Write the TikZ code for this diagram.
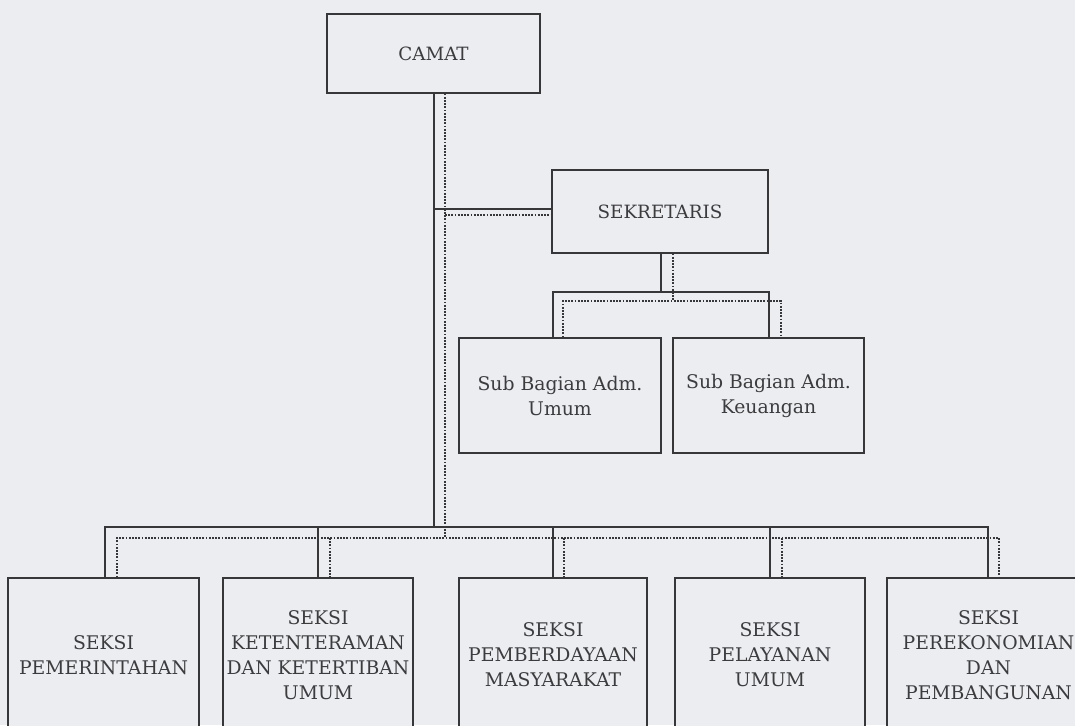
\documentclass[tikz,border=0pt]{standalone}
\usepackage{fontspec}
\setmainfont{DejaVu Serif}
\definecolor{bgc}{RGB}{236,237,241}
\definecolor{linec}{RGB}{55,55,58}
\definecolor{textc}{RGB}{60,60,62}
\begin{document}
\begin{tikzpicture}[x=1pt,y=-1pt,
  box/.style={draw=linec, line width=1.3pt, fill=bgc, inner sep=0pt, align=center, text=textc},
  conn/.style={draw=linec, line width=1.2pt},
  dotc/.style={draw=linec, line width=1.2pt, dash pattern=on 1.8pt off 1.4pt},
  big/.style={font=\fontsize{18.3}{25}\selectfont},
  med/.style={font=\fontsize{18.8}{25}\selectfont}]
\useasboundingbox (0,0) rectangle (1075,725);
\fill[bgc] (0,0) rectangle (1075,725);
\clip (0,0) rectangle (1075,725);
% nodes
\node[box,big,minimum width=213pt,minimum height=79pt] (camat) at (433.5,53.5) {CAMAT};
\node[box,big,minimum width=216pt,minimum height=83pt] (sek) at (660,211.5) {SEKRETARIS};
\node[box,med,minimum width=202pt,minimum height=115pt] (sub1) at (560,395.5) {Sub Bagian Adm.\\Umum};
\node[box,med,minimum width=191pt,minimum height=115pt] (sub2) at (768.5,395.5) {Sub Bagian Adm.\\Keuangan};
\node[box,med,minimum width=191pt,minimum height=154pt] (b1) at (103.5,655) {SEKSI\\PEMERINTAHAN};
\node[box,med,minimum width=190pt,minimum height=154pt] (b2) at (318,655) {SEKSI\\KETENTERAMAN\\DAN KETERTIBAN\\UMUM};
\node[box,med,minimum width=188pt,minimum height=154pt] (b3) at (553,655) {SEKSI\\PEMBERDAYAAN\\MASYARAKAT};
\node[box,med,minimum width=190pt,minimum height=154pt] (b4) at (770,655) {SEKSI\\PELAYANAN\\UMUM};
\node[box,med,minimum width=203pt,minimum height=154pt] (b5) at (988.5,655) {SEKSI\\PEREKONOMIAN\\DAN\\PEMBANGUNAN};
% junction coordinates
\coordinate (tS) at (434,527);
\coordinate (tD) at (445,538);
\coordinate (hS) at (434,209);
\coordinate (hD) at (445,215);
\coordinate (sS) at (661,292);
\coordinate (sD) at (673,301);
\coordinate (sL) at (553,292);
\coordinate (sR) at (769,292);
\coordinate (dL) at (563,301);
\coordinate (dR) at (781,301);
\coordinate (bs1) at (105,527);
\coordinate (bs2) at (318,527);
\coordinate (bs3) at (553,527);
\coordinate (bs4) at (770,527);
\coordinate (bs5) at (988,527);
\coordinate (bd1) at (117,538);
\coordinate (bd2) at (330,538);
\coordinate (bd3) at (564,538);
\coordinate (bd4) at (782,538);
\coordinate (bd5) at (999,538);
% camat trunk
\draw[conn] (camat.south -| tS) -- (tS);
\draw[dotc] (camat.south -| tD) -- (tD);
% to sekretaris
\draw[conn] (hS) -- (hS -| sek.west);
\draw[dotc] (hD) -- (hD -| sek.west);
% sekretaris to sub bagian
\draw[conn] (sek.south -| sS) -- (sS);
\draw[dotc] (sek.south -| sD) -- (sD);
\draw[conn] (sub1.north -| sL) -- (sL) -- (sR) -- (sub2.north -| sR);
\draw[dotc] (sub1.north -| dL) -- (dL) -- (dR) -- (sub2.north -| dR);
% bottom bus
\draw[conn] (b1.north -| bs1) -- (bs1) -- (bs5) -- (b5.north -| bs5);
\draw[conn] (bs2) -- (b2.north -| bs2);
\draw[conn] (bs3) -- (b3.north -| bs3);
\draw[conn] (bs4) -- (b4.north -| bs4);
\draw[dotc] (b1.north -| bd1) -- (bd1) -- (bd5) -- (b5.north -| bd5);
\draw[dotc] (bd2) -- (b2.north -| bd2);
\draw[dotc] (bd3) -- (b3.north -| bd3);
\draw[dotc] (bd4) -- (b4.north -| bd4);
\end{tikzpicture}
\end{document}
